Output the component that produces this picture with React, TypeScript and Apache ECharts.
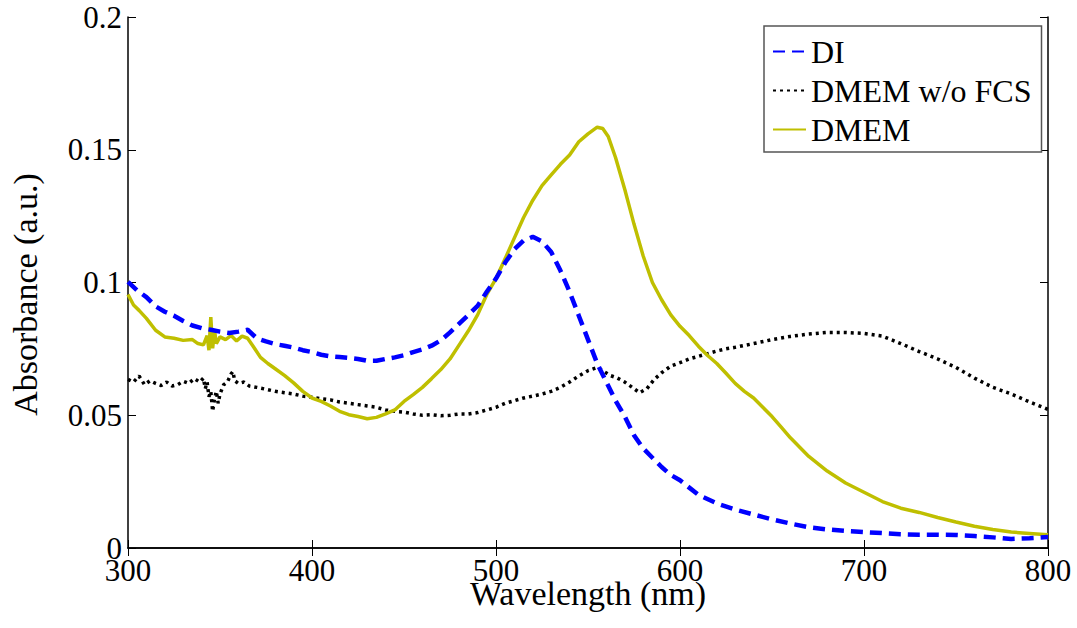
import React, { useEffect, useRef } from "react";
import * as echarts from "echarts";

const FONT = "'Liberation Serif', 'Times New Roman', serif";

const xTicks = [300, 400, 500, 600, 700, 800];
const yTicks = [0, 0.05, 0.1, 0.15, 0.2];

const seriesNames = ["DI", "DMEM w/o FCS", "DMEM"];

const diWl = [300, 305, 310, 315, 320, 325, 330, 335, 340, 345, 350, 355, 360, 365, 370, 375, 380, 385, 390, 395, 400, 405, 410, 415, 420, 425, 430, 435, 440, 445, 450, 455, 460, 465, 470, 475, 480, 485, 490, 495, 500, 505, 510, 515, 520, 525, 530, 535, 540, 545, 550, 555, 560, 565, 570, 575, 580, 585, 590, 595, 600, 610, 620, 630, 640, 650, 660, 670, 680, 690, 700, 710, 720, 730, 740, 750, 760, 770, 780, 790, 800];
const diAbs = [0.1002, 0.097, 0.0945, 0.091, 0.089, 0.0875, 0.0855, 0.0838, 0.0828, 0.0822, 0.0815, 0.081, 0.0815, 0.0822, 0.079, 0.0778, 0.0768, 0.0762, 0.0755, 0.0745, 0.0738, 0.0728, 0.0722, 0.0719, 0.0716, 0.0712, 0.0705, 0.0705, 0.0712, 0.0718, 0.0726, 0.0738, 0.0748, 0.0762, 0.0782, 0.0812, 0.0845, 0.0878, 0.0912, 0.0965, 0.1015, 0.1075, 0.1125, 0.1158, 0.1172, 0.1155, 0.1115, 0.1045, 0.0965, 0.0875, 0.0785, 0.0695, 0.0625, 0.0555, 0.0495, 0.0425, 0.0375, 0.034, 0.0305, 0.0275, 0.0255, 0.02, 0.0168, 0.0145, 0.0126, 0.0108, 0.0092, 0.0078, 0.007, 0.0064, 0.006, 0.0056, 0.0052, 0.005, 0.005, 0.0049, 0.0045, 0.004, 0.0034, 0.0037, 0.0041];

const fcsFreeWl = [300, 303, 306, 309, 312, 315, 318, 321, 324, 327, 330, 333, 336, 339, 341, 342, 343, 344, 345, 346, 347, 348, 349, 350, 352, 354, 356, 357, 358, 360, 363, 366, 370, 375, 380, 385, 390, 395, 400, 405, 410, 415, 420, 425, 430, 435, 440, 445, 450, 455, 460, 465, 470, 475, 480, 485, 490, 495, 500, 505, 510, 515, 520, 525, 530, 535, 540, 545, 550, 555, 558, 562, 566, 570, 575, 578, 582, 586, 590, 595, 600, 605, 610, 615, 620, 625, 630, 640, 650, 660, 670, 680, 690, 700, 710, 720, 730, 740, 750, 760, 770, 780, 790, 800];
const fcsFreeAbs = [0.0635, 0.0625, 0.0648, 0.0615, 0.063, 0.062, 0.0612, 0.0625, 0.061, 0.0615, 0.0628, 0.062, 0.0638, 0.0625, 0.064, 0.06, 0.0625, 0.057, 0.059, 0.0515, 0.056, 0.059, 0.0545, 0.058, 0.0615, 0.0625, 0.0655, 0.0665, 0.063, 0.062, 0.0625, 0.061, 0.0605, 0.0598, 0.059, 0.0585, 0.058, 0.0572, 0.0568, 0.0562, 0.0558, 0.055, 0.0545, 0.054, 0.0535, 0.053, 0.052, 0.0515, 0.0512, 0.0505, 0.05, 0.0502, 0.0498, 0.05, 0.0505, 0.0505, 0.051, 0.052, 0.053, 0.0545, 0.0555, 0.0565, 0.0572, 0.058, 0.059, 0.0605, 0.0625, 0.0648, 0.0668, 0.068, 0.0668, 0.065, 0.064, 0.0625, 0.06, 0.0585, 0.06, 0.0635, 0.066, 0.0685, 0.0698, 0.0712, 0.0722, 0.0732, 0.0742, 0.075, 0.0756, 0.077, 0.0785, 0.0797, 0.0806, 0.0812, 0.0812, 0.0808, 0.0798, 0.077, 0.074, 0.0712, 0.068, 0.064, 0.0605, 0.058, 0.055, 0.0522];

const dmemWl = [300, 303, 306, 310, 315, 320, 325, 330, 335, 338, 341, 343, 344, 345, 346, 347, 348, 350, 353, 356, 359, 362, 365, 368, 372, 376, 380, 385, 390, 395, 400, 405, 410, 415, 420, 425, 430, 435, 440, 445, 450, 455, 460, 465, 470, 475, 480, 485, 490, 495, 500, 505, 510, 515, 520, 525, 530, 535, 540, 545, 550, 555, 558, 561, 565, 570, 575, 580, 585, 590, 595, 600, 605, 610, 615, 620, 625, 630, 635, 640, 645, 650, 655, 660, 670, 680, 690, 700, 710, 720, 730, 740, 750, 760, 770, 780, 790, 800];
const dmemAbs = [0.0955, 0.0915, 0.0895, 0.0865, 0.082, 0.0795, 0.079, 0.0782, 0.0785, 0.077, 0.0765, 0.08, 0.0745, 0.087, 0.0752, 0.082, 0.077, 0.0795, 0.0785, 0.08, 0.078, 0.0798, 0.079, 0.076, 0.0718, 0.0695, 0.0675, 0.065, 0.0622, 0.059, 0.0565, 0.0552, 0.0535, 0.0515, 0.0502, 0.0495, 0.0487, 0.0492, 0.0505, 0.052, 0.0552, 0.0578, 0.0605, 0.0638, 0.0672, 0.0712, 0.0765, 0.0818, 0.0878, 0.0955, 0.1015, 0.109, 0.1168, 0.1245, 0.131, 0.1365, 0.1405, 0.1445, 0.148, 0.153, 0.156, 0.1585, 0.158, 0.155, 0.147, 0.135, 0.122, 0.11, 0.1, 0.0935, 0.0878, 0.0835, 0.08, 0.076, 0.0725, 0.0695, 0.0658, 0.062, 0.059, 0.0565, 0.053, 0.0495, 0.0455, 0.0415, 0.0345, 0.029, 0.0245, 0.021, 0.0175, 0.015, 0.0134, 0.0115, 0.0098, 0.0082, 0.007, 0.006, 0.0055, 0.005];

const pairs = (xs: number[], ys: number[]) => xs.map((x, i) => [x, ys[i]]);

export default function App() {
  const ref = useRef<HTMLDivElement>(null);
  useEffect(() => {
    document.body.style.margin = "0";
    const chart = echarts.init(ref.current!, null, { renderer: "svg" });
    const axisLine = { show: true, lineStyle: { color: "#000", width: 1.5 } };
    const tickIn = { show: true, inside: true, length: 8, lineStyle: { color: "#000", width: 1 } };
    chart.setOption({
      animation: false,
      backgroundColor: "#fff",
      textStyle: { fontFamily: FONT },
      grid: { left: 116, right: 29, top: 17, bottom: 80, containLabel: false },
      legend: {
        show: true,
        orient: "vertical",
        left: 764,
        top: 26,
        data: seriesNames,
        backgroundColor: "#fff",
        borderColor: "#555",
        borderWidth: 1.5,
        padding: [6, 10, 3, 8],
        itemGap: 0,
        itemWidth: 33,
        itemHeight: 12,
        itemStyle: { opacity: 0 },
        textStyle: { fontFamily: FONT, fontSize: 32, color: "#000", lineHeight: 39 },
      },
      xAxis: [
        {
          type: "value",
          min: xTicks[0],
          max: xTicks[xTicks.length - 1],
          interval: 100,
          position: "bottom",
          name: "Wavelength (nm)",
          nameLocation: "middle",
          nameGap: 32,
          nameMoveOverlap: false,
          nameTextStyle: { fontFamily: FONT, fontSize: 34, color: "#000", lineHeight: 26 },
          axisLine,
          axisTick: tickIn,
          splitLine: { show: false },
          axisLabel: { fontFamily: FONT, fontSize: 31, color: "#000", margin: 12, lineHeight: 20 },
        },
        {
          type: "value",
          min: xTicks[0],
          max: xTicks[xTicks.length - 1],
          interval: 100,
          position: "top",
          axisLine,
          axisTick: tickIn,
          splitLine: { show: false },
          axisLabel: { show: false },
        },
      ],
      yAxis: [
        {
          type: "value",
          min: yTicks[0],
          max: yTicks[yTicks.length - 1],
          interval: 0.05,
          position: "left",
          name: "Absorbance (a.u.)",
          nameLocation: "middle",
          nameGap: 86,
          nameMoveOverlap: false,
          nameTextStyle: { fontFamily: FONT, fontSize: 34, color: "#000", padding: [0, 24, 0, 0] },
          axisLine,
          axisTick: tickIn,
          splitLine: { show: false },
          axisLabel: { fontFamily: FONT, fontSize: 31, color: "#000", margin: 6, lineHeight: 20 },
        },
        {
          type: "value",
          min: yTicks[0],
          max: yTicks[yTicks.length - 1],
          interval: 0.05,
          position: "right",
          axisLine,
          axisTick: tickIn,
          splitLine: { show: false },
          axisLabel: { show: false },
        },
      ],
      series: [
        {
          name: seriesNames[0],
          type: "line",
          data: pairs(diWl, diAbs),
          showSymbol: false,
          symbol: "none",
          color: "#0000ff",
          lineStyle: { color: "#0000ff", width: 4.5, type: [12, 7] },
          z: 3,
        },
        {
          name: seriesNames[1],
          type: "line",
          data: pairs(fcsFreeWl, fcsFreeAbs),
          showSymbol: false,
          symbol: "none",
          color: "#000",
          lineStyle: { color: "#000", width: 3.5, type: [3, 4] },
          z: 2,
        },
        {
          name: seriesNames[2],
          type: "line",
          data: pairs(dmemWl, dmemAbs),
          showSymbol: false,
          symbol: "none",
          color: "#bfbf00",
          lineStyle: { color: "#bfbf00", width: 3.5 },
          z: 2,
        },
      ],
    });
    return () => chart.dispose();
  }, []);
  return <div ref={ref} style={{ width: 1077, height: 628 }} />;
}
